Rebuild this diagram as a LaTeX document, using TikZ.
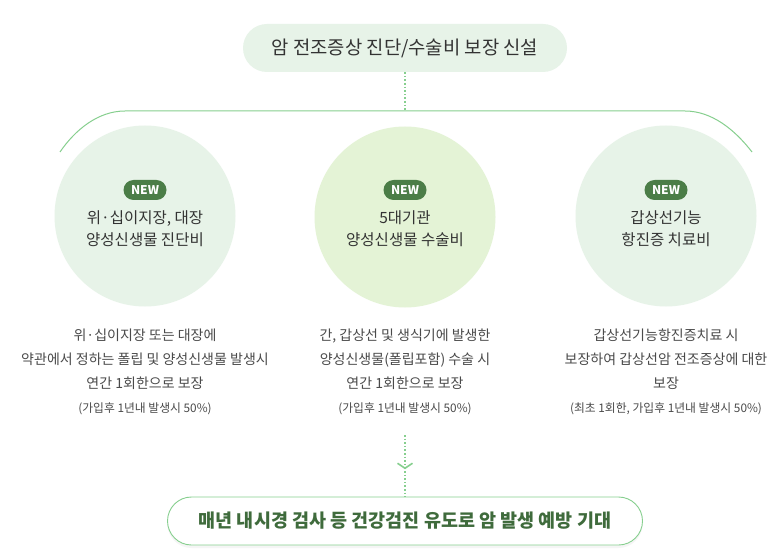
\documentclass[tikz,border=0pt]{standalone}
\usepackage{fontspec}
\setmainfont{Noto Sans CJK KR}
\usepackage{xcolor}
\usepackage{tikz}
\usetikzlibrary{arrows.meta,decorations.markings,shadows}
\definecolor{Leaf}{HTML}{86CF8E}
\definecolor{Mint}{HTML}{E7F3E8}
\definecolor{Lime}{HTML}{E4F3D6}
\definecolor{Forest}{HTML}{4B7D47}
\definecolor{Moss}{HTML}{3F6B3C}
\definecolor{Ink}{HTML}{333333}
\definecolor{Slate}{HTML}{4A4A4A}

\begin{document}
\begin{tikzpicture}[x=1pt,y=-1pt,
  every node/.style={align=center,text=Ink,inner sep=0pt},
  pill/.style={rounded corners=24pt,minimum height=48pt},
  topic/.style={circle,minimum size=181pt,fill=Mint},
  badge/.style={rounded corners=10pt,fill=Forest,text=white,font=\bfseries\fontsize{12}{12}\selectfont,minimum width=43pt,minimum height=20pt},
  title/.style={font=\fontsize{15.5}{22}\selectfont},
  desc/.style={text=Slate,font=\fontsize{14}{24}\selectfont},
  fine/.style={text=Slate,font=\fontsize{11.8}{12}\selectfont},
  dots/.style={Leaf,line width=1.6pt,dash pattern=on 1.6pt off 2pt},
  branch/.style={Leaf,line width=1pt}
]
\useasboundingbox[fill=white] (0,0) rectangle (784,556);

\node[pill,fill=Mint,minimum width=324pt,font=\fontsize{18.8}{20}\selectfont] (head) at (405,48) {암 전조증상 진단/수술비 보장 신설};
\coordinate (hub) at (405,111);
\coordinate (armL) at (60,152);
\coordinate (armR) at (752,152);
\draw[dots] (head.south) -- (hub);
\draw[branch] (armL) .. controls (75,130) and (98,111) .. (125,111) -- (685,111) .. controls (712,111) and (735,130) .. (armR);

% three covers
\node[topic] (care1) at (145,216) {};
\node[topic,fill=Lime] (care2) at (405,217) {};
\node[topic] (care3) at (666,216) {};

\node[badge] (new1) at (145,190) {NEW};
\node[badge] (new2) at (405,190) {NEW};
\node[badge] (new3) at (666,190) {NEW};

\node[title] (name1) at (145,229) {위·십이지장, 대장\\양성신생물 진단비};
\node[title] (name2) at (405,229) {5대기관\\양성신생물 수술비};
\node[title] (name3) at (666,229) {갑상선기능\\항진증 치료비};

\node[desc] (desc1) at (145,359.5) {위·십이지장 또는 대장에\\약관에서 정하는 폴립 및 양성신생물 발생시\\연간 1회한으로 보장};
\node[desc] (desc2) at (405,359.5) {간, 갑상선 및 생식기에 발생한\\양성신생물(폴립포함) 수술 시\\연간 1회한으로 보장};
\node[desc] (desc3) at (666,359.5) {갑상선기능항진증치료 시\\보장하여 갑상선암 전조증상에 대한\\보장};

\node[fine] (cap1) at (145,409) {(가입후 1년내 발생시 50\%)};
\node[fine] (cap2) at (405,409) {(가입후 1년내 발생시 50\%)};
\node[fine] (cap3) at (666,409) {(최초 1회한, 가입후 1년내 발생시 50\%)};

% result
\node[pill,draw=Leaf,line width=0.9pt,fill=white,minimum width=475pt,text=Moss,font=\bfseries\fontsize{18.5}{20}\selectfont,
  drop shadow={opacity=0.08,shadow xshift=0pt,shadow yshift=-3pt}] (goal) at (405,521) {매년 내시경 검사 등 건강검진 유도로 암 발생 예방 기대};
\coordinate (drop) at (405,435);
\draw[dots,postaction={draw,solid,line width=1pt,decorate,decoration={markings,mark=at position 0.55 with {\arrow{Straight Barb[length=5pt,width=15pt,line width=1pt]}}}}] (drop) -- (goal.north);
\end{tikzpicture}
\end{document}
